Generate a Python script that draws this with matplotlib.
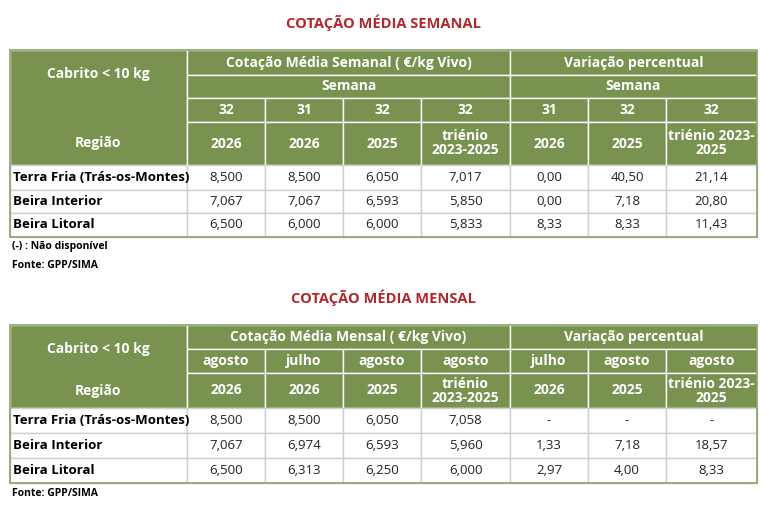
import matplotlib.pyplot as plt
from matplotlib.patches import Rectangle

regioes = ['Terra Fria (Trás-os-Montes)', 'Beira Interior', 'Beira Litoral']

sem_semanas = ['32', '31', '32', '32']
sem_anos = ['2026', '2026', '2025', 'triénio\n2023-2025']
sem_var_semanas = ['31', '32', '32']
sem_var_anos = ['2026', '2025', 'triénio 2023-\n2025']
sem_cot = [['8,500', '8,500', '6,050', '7,017'],
           ['7,067', '7,067', '6,593', '5,850'],
           ['6,500', '6,000', '6,000', '5,833']]
sem_var = [['0,00', '40,50', '21,14'],
           ['0,00', '7,18', '20,80'],
           ['8,33', '8,33', '11,43']]

men_meses = ['agosto', 'julho', 'agosto', 'agosto']
men_anos = ['2026', '2026', '2025', 'triénio\n2023-2025']
men_var_meses = ['julho', 'agosto', 'agosto']
men_var_anos = ['2026', '2025', 'triénio 2023-\n2025']
men_cot = [['8,500', '8,500', '6,050', '7,058'],
           ['7,067', '6,974', '6,593', '5,960'],
           ['6,500', '6,313', '6,250', '6,000']]
men_var = [['-', '-', '-'],
           ['1,33', '7,18', '18,57'],
           ['2,97', '4,00', '8,33']]

GREEN = '#77934f'
RED = '#b0282e'
FONT = 'Open Sans'

fig = plt.figure(figsize=(7.66, 5.18), dpi=100)
ax = fig.add_axes([0, 0, 1, 1])
ax.set_xlim(0, 766)
ax.set_ylim(518, 0)
ax.axis('off')

cols = [10, 187, 265, 343, 421, 510, 588, 666, 757]


def cell(x0, x1, y0, y1, text, fill, color, ha='center', size=10, edge='white'):
    ax.add_patch(Rectangle((x0, y0), x1 - x0, y1 - y0, facecolor=fill,
                           edgecolor=edge, lw=1))
    if text:
        x = (x0 + x1) / 2 if ha == 'center' else x0 + 3
        ax.text(x, (y0 + y1) / 2, text, ha=ha, va='center', color=color,
                fontsize=size, fontweight='bold' if color == 'white' or ha == 'left' else 'normal',
                family=FONT, linespacing=1.0)


def table(top, r, title, head1, head2, sub1, sub2, vsub1, vsub2, cot, var):
    ax.text(383, top - 27, title, ha='center', va='center', color=RED,
            fontsize=10.5, fontweight='bold', family=FONT)
    cell(cols[0], cols[1], r[0], r[4], '', GREEN, 'white')
    cab_end = r[2] if r[2] is not None else r[3]
    ax.text((cols[0] + cols[1]) / 2, (r[0] + cab_end) / 2, 'Cabrito < 10 kg', ha='center',
            va='center', color='white', fontsize=10, fontweight='bold', family=FONT)
    ax.text((cols[0] + cols[1]) / 2, (r[3] + r[4]) / 2, 'Região', ha='center',
            va='center', color='white', fontsize=10, fontweight='bold', family=FONT)
    cell(cols[1], cols[5], r[0], r[1], head1, GREEN, 'white')
    cell(cols[5], cols[8], r[0], r[1], 'Variação percentual', GREEN, 'white')
    if head2:
        cell(cols[1], cols[5], r[1], r[2], head2, GREEN, 'white')
        cell(cols[5], cols[8], r[1], r[2], head2, GREEN, 'white')
        s0 = r[2]
    else:
        s0 = r[1]
    for i in range(4):
        cell(cols[1 + i], cols[2 + i], s0, r[3], sub1[i], GREEN, 'white')
        cell(cols[1 + i], cols[2 + i], r[3], r[4], sub2[i], GREEN, 'white')
    for i in range(3):
        cell(cols[5 + i], cols[6 + i], s0, r[3], vsub1[i], GREEN, 'white')
        cell(cols[5 + i], cols[6 + i], r[3], r[4], vsub2[i], GREEN, 'white')
    for j, reg in enumerate(regioes):
        y0, y1 = r[4 + j], r[5 + j]
        cell(cols[0], cols[1], y0, y1, reg, 'white', 'black', ha='left', size=9.5, edge='#cfcfcf')
        vals = cot[j] + var[j]
        for i, v in enumerate(vals):
            cell(cols[1 + i], cols[2 + i], y0, y1, v, 'white', '#222222', size=9.5,
                 edge='#cfcfcf')
    ax.add_patch(Rectangle((cols[0], r[0]), cols[-1] - cols[0], r[-1] - r[0],
                           facecolor='none', edgecolor='#8aa26a', lw=1.2))


table(50, [50, 75, 98, 122, 165, 190, 213, 237], 'COTAÇÃO MÉDIA SEMANAL',
      'Cotação Média Semanal ( €/kg Vivo)', 'Semana', sem_semanas, sem_anos,
      sem_var_semanas, sem_var_anos, sem_cot, sem_var)
ax.text(12, 246, '(-) : Não disponível', fontsize=7.5, fontweight='bold', va='center', family=FONT)
ax.text(12, 266, 'Fonte: GPP/SIMA', fontsize=7.5, fontweight='bold', va='center', family=FONT)

table(325, [325, 349, None, 373, 408, 433, 458, 483], 'COTAÇÃO MÉDIA MENSAL',
      'Cotação Média Mensal ( €/kg Vivo)', None, men_meses, men_anos,
      men_var_meses, men_var_anos, men_cot, men_var)
ax.text(12, 494, 'Fonte: GPP/SIMA', fontsize=7.5, fontweight='bold', va='center', family=FONT)

fig.savefig('out.png', dpi=100)
